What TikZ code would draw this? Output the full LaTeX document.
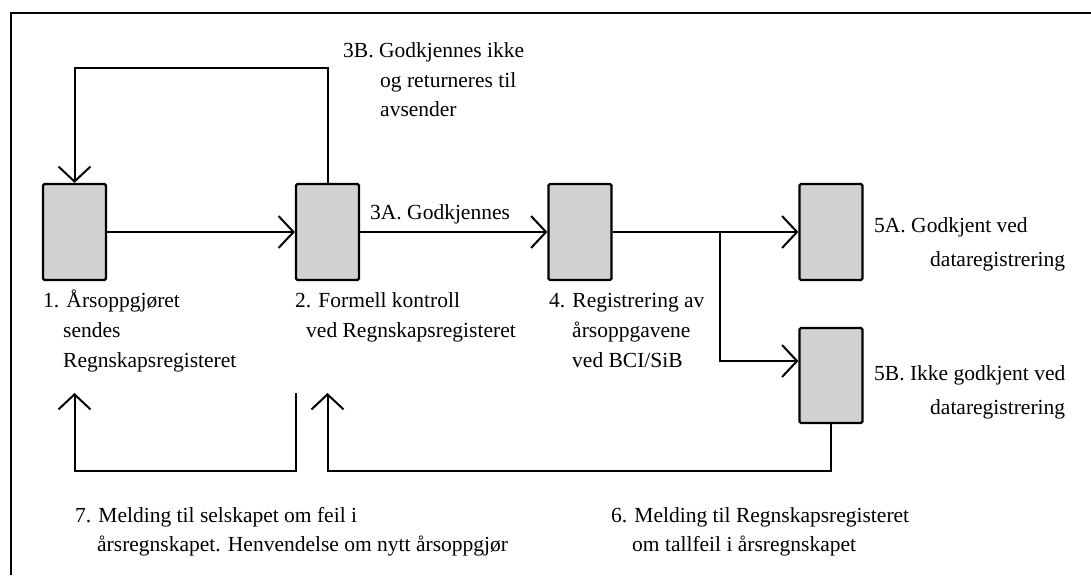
\documentclass[tikz,border=0pt]{standalone}
\usepackage{fontspec}
\setmainfont{Liberation Serif}
\usetikzlibrary{arrows.meta}
\begin{document}
\begin{tikzpicture}[x=1pt,y=-1pt,
  font=\fontsize{21.5}{21.5}\selectfont,
  box/.style={draw, line width=2.2pt, fill=black!18, minimum width=63pt, minimum height=96pt, rounded corners=1.5pt, inner sep=0pt},
  arr/.style={line width=2pt, -{Straight Barb[length=15pt,width=32pt]}},
  frame/.style={line width=2.2pt},
  lbl/.style={anchor=base west, inner sep=0pt}]
\useasboundingbox (0,0) rectangle (1091,575);
\draw[frame] (11,575) -- (11,13) -- (1091,13);
% boxes
\node[box] (b1) at (74.5,232) {};
\node[box] (b2) at (327.5,232) {};
\node[box] (b4) at (580,232) {};
\node[box] (b5a) at (831,232) {};
\node[box,minimum height=95pt] (b5b) at (831,375.5) {};
% connectors
\draw[arr] (b1.east) -- (b2.west);
\draw[arr] (b2.east) -- (b4.west);
\draw[arr] (b4.east) -- (b5a.west);
\coordinate (br) at (720,232);
\draw[arr] (br) |- ([yshift=-129pt]b5a.west);
\draw[arr] (b2.north) -- (b2.north |- 0,68) -| (b1.north);
\coordinate (s7) at (296,393);
\coordinate (t7) at (74.5,393);
\coordinate (t6) at (327.5,393);
\draw[arr] (s7) |- (t7 |- 0,471) -- (t7);
\draw[arr] (b5b.south) |- (t6 |- 0,471) -- (t6);
% labels
\node[lbl] (l3b1) at (343,58) {3B. Godkjennes ikke};
\node[lbl] (l3b2) at (380,88) {og returneres til};
\node[lbl] (l3b3) at (380,117) {avsender};
\node[lbl] (l3a) at (370,219) {3A. Godkjennes};
\node[lbl] (l11) at (43,307) {1. Årsoppgjøret};
\node[lbl] (l12) at (63,337) {sendes};
\node[lbl] (l13) at (63,367) {Regnskapsregisteret};
\node[lbl] (l21) at (295,307) {2. Formell kontroll};
\node[lbl] (l22) at (306,337) {ved Regnskapsregisteret};
\node[lbl] (l41) at (549,307) {4. Registrering av};
\node[lbl] (l42) at (572,337) {årsoppgavene};
\node[lbl] (l43) at (572,367) {ved BCI/SiB};
\node[lbl] (l5a1) at (874,232) {5A. Godkjent ved};
\node[lbl] (l5a2) at (930,266) {dataregistrering};
\node[lbl] (l5b1) at (874,380) {5B. Ikke godkjent ved};
\node[lbl] (l5b2) at (930,414) {dataregistrering};
\node[lbl] (l71) at (75,522) {7. Melding til selskapet om feil i};
\node[lbl] (l72) at (97,551) {årsregnskapet. Henvendelse om nytt årsoppgjør};
\node[lbl] (l61) at (611,522) {6. Melding til Regnskapsregisteret};
\node[lbl] (l62) at (632,551) {om tallfeil i årsregnskapet};
\end{tikzpicture}
\end{document}
